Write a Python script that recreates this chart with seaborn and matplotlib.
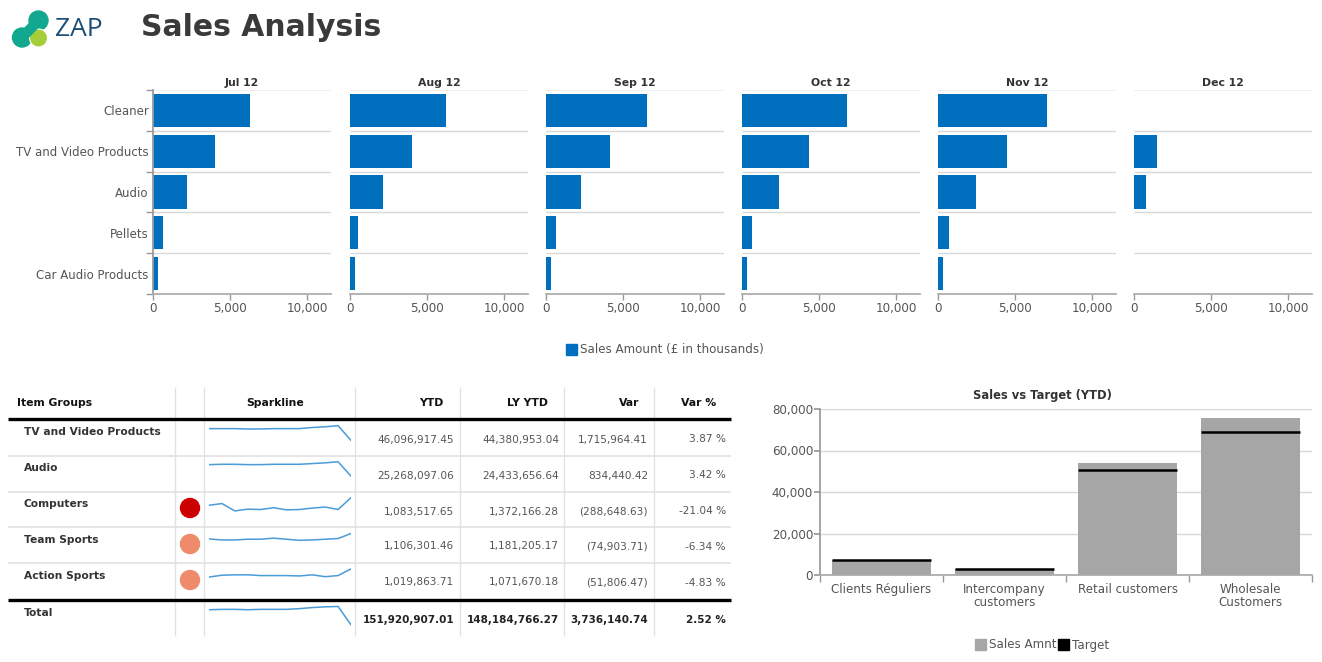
#!/usr/bin/env python3
"""Sales analysis dashboard: monthly bars, item group table, sales vs target."""

import matplotlib

matplotlib.use("Agg")

import matplotlib.pyplot as plt
import pandas as pd
import seaborn as sns
from matplotlib.patches import Circle, Patch
from matplotlib.ticker import FuncFormatter

WIDTH, HEIGHT = 1322, 662

BLUE = "#006FBE"
GREY_BAR = "#A6A6A6"
TEXT = "#555555"
GRID = "#D8D8D8"

MONTHS = ["Jul 12", "Aug 12", "Sep 12", "Oct 12", "Nov 12", "Dec 12"]
CATEGORIES = ["Cleaner", "TV and Video Products", "Audio", "Pellets", "Car Audio Products"]
NAN = float("nan")
JUL = [6280, 4000, 2200, 650, 350]
AUG = [6250, 4000, 2150, 520, 300]
SEP = [6550, 4150, 2270, 620, 320]
OCT = [6800, 4350, 2400, 620, 320]
NOV = [7050, 4480, 2460, 700, 330]
DEC = [NAN, 1520, 800, NAN, NAN]
MONTH_VALUES = [JUL, AUG, SEP, OCT, NOV, DEC]
MONTH_TICKS = [0, 5000, 10000]

TABLE_HEADERS = ["YTD", "LY YTD", "Var", "Var %"]
ITEM_GROUPS = ["TV and Video Products", "Audio", "Computers", "Team Sports", "Action Sports"]
YTD = ["46,096,917.45", "25,268,097.06", "1,083,517.65", "1,106,301.46", "1,019,863.71"]
LY_YTD = ["44,380,953.04", "24,433,656.64", "1,372,166.28", "1,181,205.17", "1,071,670.18"]
VAR = ["1,715,964.41", "834,440.42", "(288,648.63)", "(74,903.71)", "(51,806.47)"]
VAR_PCT = ["3.87 %", "3.42 %", "-21.04 %", "-6.34 %", "-4.83 %"]
TOTALS = ["151,920,907.01", "148,184,766.27", "3,736,140.74", "2.52 %"]
STATUS = [None, None, "#CC0000", "#EF8A6B", "#EF8A6B"]

# sparkline heights as percent of the row
SPARK_TV = [74, 74, 74, 73, 73, 74, 74, 74, 77, 79, 82, 42]
SPARK_AUDIO = [76, 77, 77, 76, 76, 77, 77, 77, 79, 81, 84, 44]
SPARK_COMPUTERS = [62, 67, 46, 51, 50, 55, 49, 50, 54, 57, 50, 84]
SPARK_TEAM = [67, 64, 64, 66, 66, 69, 66, 63, 64, 66, 68, 82]
SPARK_ACTION = [62, 67, 68, 68, 66, 66, 66, 65, 68, 63, 66, 84]
SPARK_TOTAL = [73, 74, 74, 73, 74, 74, 74, 76, 79, 81, 82, 31]
SPARKS = [SPARK_TV, SPARK_AUDIO, SPARK_COMPUTERS, SPARK_TEAM, SPARK_ACTION, SPARK_TOTAL]

CUSTOMERS = ["Clients Réguliers", "Intercompany\ncustomers", "Retail customers", "Wholesale\nCustomers"]
SALES_AMNT = [7400, 3000, 54000, 75800]
TARGET = [7100, 2900, 50500, 69100]
SALES_TICKS = [0, 20000, 40000, 60000, 80000]

thousands = FuncFormatter(lambda v, _: f"{v:,.0f}")


def px_axes(fig, x0, y0, x1, y1, **kwargs):
	return fig.add_axes([x0 / WIDTH, 1 - y1 / HEIGHT, (x1 - x0) / WIDTH, (y1 - y0) / HEIGHT], **kwargs)


def draw_header(overlay):
	# logo
	overlay.plot([38.5, 22], [20.5, 37.5], color="#12A88F", lw=7.5, solid_capstyle="round")
	overlay.add_patch(Circle((38.5, 20.5), 9.5, color="#12A88F"))
	overlay.add_patch(Circle((22, 37.5), 9.5, color="#12A88F"))
	overlay.add_patch(Circle((38.5, 38), 9, facecolor="#A6CE39", edgecolor="white", lw=0.8))
	overlay.text(55, 30, "ZAP", fontsize=19, color="#1D4F76", family="Open Sans", va="center")
	overlay.text(141, 27, "Sales Analysis", fontsize=21.5, fontweight="bold", color="#3A3A3A", va="center")


def draw_months(fig):
	frame = pd.DataFrame(
		{
			"month": [m for m in MONTHS for _ in CATEGORIES],
			"category": CATEGORIES * len(MONTHS),
			"sales": [v for values in MONTH_VALUES for v in values],
		}
	)
	lefts = [153, 350, 546, 742, 938, 1134]
	for idx, (month, left) in enumerate(zip(MONTHS, lefts)):
		ax = px_axes(fig, left, 90, left + 178, 294)
		sns.barplot(
			data=frame[frame["month"] == month],
			y="category",
			x="sales",
			order=CATEGORIES,
			orient="h",
			color=BLUE,
			saturation=1,
			width=0.81,
			linewidth=0,
			ax=ax,
		)
		ax.set_xlim(0, 11550)
		ax.set_ylim(4.5, -0.5)
		ax.set_xlabel("")
		ax.set_ylabel("")
		ax.set_title(month, fontsize=7.8, fontweight="bold", color="#333333", pad=3)
		ax.hlines([0.5, 1.5, 2.5, 3.5], 0, 1, transform=ax.get_yaxis_transform(), color=GRID, lw=1, zorder=0)
		ax.hlines([-0.5], 0, 1, transform=ax.get_yaxis_transform(), color="#F0F0F0", lw=1.5, zorder=0)
		ax.set_xticks(MONTH_TICKS)
		ax.xaxis.set_major_formatter(thousands)
		ax.tick_params(axis="x", bottom=True, labelsize=8.6, labelcolor=TEXT, color="#999999", length=4, width=1, pad=2)
		for name in ["top", "right"]:
			ax.spines[name].set_visible(False)
		ax.spines["bottom"].set_color("#AAAAAA")
		if idx == 0:
			ax.spines["left"].set_color("#999999")
			ax.tick_params(axis="y", labelsize=8.5, labelcolor=TEXT, length=0, pad=3)
			ax.set_yticks([-0.5, 0.5, 1.5, 2.5, 3.5, 4.5], minor=True)
			ax.tick_params(axis="y", which="minor", left=True, color="#999999", length=5, width=1)
		else:
			ax.spines["left"].set_visible(False)
			ax.tick_params(axis="y", left=False, labelleft=False)
	fig.legend(
		handles=[Patch(color=BLUE, label="Sales Amount (£ in thousands)")],
		loc="center",
		bbox_to_anchor=(665 / WIDTH, 1 - 350 / HEIGHT),
		frameon=False,
		fontsize=8.6,
		labelcolor=TEXT,
		handlelength=0.95,
		handleheight=0.95,
		handletextpad=0.25,
		borderpad=0,
	)


def draw_table(fig, overlay):
	columns = [175, 204, 355, 460, 564, 654]
	rows = [456, 492, 527, 563]
	text_y = [439.5, 475.5, 511.5, 546.5, 582.5]
	label_y = [432, 468, 504, 540, 576]
	dot_y = [None, None, 508, 544, 580]
	row_edges = [419, 456, 492, 527, 563, 600, 636]
	num_right = [454, 559, 648, 726]
	head_right = [444, 548, 639, 716]

	overlay.vlines(columns, 387, 636, color="#E2E2E2", lw=1)
	overlay.hlines(rows, 8, 731, color="#E2E2E2", lw=1.2)
	overlay.hlines([419, 600], 8, 731, color="black", lw=2.4)

	head_style = dict(fontsize=7.8, fontweight="bold", color="#111111", va="center")
	overlay.text(17, 403, "Item Groups", ha="left", **head_style)
	overlay.text(275, 403, "Sparkline", ha="center", **head_style)
	for header, right in zip(TABLE_HEADERS, head_right):
		overlay.text(right, 403, header, ha="right", **head_style)

	group_style = dict(fontsize=7.7, fontweight="bold", color="#333333", va="center", ha="left")
	for i, group in enumerate(ITEM_GROUPS):
		overlay.text(24, label_y[i], group, **group_style)
		cells = [YTD[i], LY_YTD[i], VAR[i], VAR_PCT[i]]
		for cell, right in zip(cells, num_right):
			overlay.text(right, text_y[i], cell, fontsize=7.6, color=TEXT, ha="right", va="center")
		if STATUS[i] is not None:
			overlay.add_patch(Circle((190, dot_y[i]), 9.5, color=STATUS[i], zorder=3))

	overlay.text(24, 613, "Total", **group_style)
	for cell, right in zip(TOTALS, num_right):
		overlay.text(right, 620, cell, fontsize=7.5, fontweight="bold", color="#222222", ha="right", va="center")

	for i, spark in enumerate(SPARKS):
		ax = px_axes(fig, 209, row_edges[i], 351, row_edges[i + 1])
		ax.patch.set_alpha(0)
		sns.lineplot(x=range(len(spark)), y=spark, color="#4A9BD8", lw=1.1, ax=ax)
		ax.set_xlim(0, len(spark) - 1)
		ax.set_ylim(0, 100)
		ax.axis("off")


def draw_sales_target(fig):
	ax = px_axes(fig, 820, 409, 1312, 575)
	frame = pd.DataFrame({"customer": CUSTOMERS, "sales": SALES_AMNT})
	sns.barplot(
		data=frame,
		x="customer",
		y="sales",
		color=GREY_BAR,
		saturation=1,
		width=0.805,
		linewidth=0,
		ax=ax,
		zorder=2,
	)
	ax.hlines(TARGET, [i - 0.4025 for i in range(4)], [i + 0.4025 for i in range(4)], color="black", lw=1.8, zorder=3)
	ax.set_xlim(-0.5, 3.5)
	ax.set_ylim(0, 80000)
	ax.set_xlabel("")
	ax.set_ylabel("")
	ax.set_yticks(SALES_TICKS)
	ax.yaxis.set_major_formatter(thousands)
	ax.grid(axis="y", color=GRID, lw=1, zorder=0)
	ax.set_axisbelow(True)
	ax.tick_params(axis="y", left=True, labelsize=8.6, labelcolor=TEXT, color="#999999", length=4, pad=1)
	ax.tick_params(axis="x", labelsize=8.6, labelcolor=TEXT, length=0, pad=6)
	plt.setp(ax.get_xticklabels(), linespacing=0.95)
	ax.set_xticks([-0.5, 0.5, 1.5, 2.5, 3.5], minor=True)
	ax.tick_params(axis="x", which="minor", bottom=True, color="#999999", length=5, width=1)
	ax.set_title("Sales vs Target (YTD)", x=0.453, fontsize=8.3, fontweight="bold", color="#333333", pad=7)
	for name in ["top", "right"]:
		ax.spines[name].set_visible(False)
	ax.spines["left"].set_color("#999999")
	ax.spines["bottom"].set_color("#AAAAAA")
	fig.legend(
		handles=[
			Patch(color=GREY_BAR, label="Sales Amnt"),
			Patch(color="black", label="Target"),
		],
		loc="center",
		ncol=2,
		bbox_to_anchor=(1042 / WIDTH, 1 - 645 / HEIGHT),
		frameon=False,
		fontsize=8.6,
		labelcolor=TEXT,
		handlelength=0.95,
		handleheight=0.95,
		handletextpad=0.25,
		columnspacing=0.1,
		borderpad=0,
	)


def main():
	sns.set_theme(style="white")
	plt.rcParams["font.family"] = ["DejaVu Sans"]

	fig = plt.figure(figsize=(WIDTH / 100, HEIGHT / 100), dpi=100, facecolor="white")
	overlay = fig.add_axes([0, 0, 1, 1])
	overlay.set_xlim(0, WIDTH)
	overlay.set_ylim(HEIGHT, 0)
	overlay.axis("off")

	draw_header(overlay)
	draw_months(fig)
	draw_table(fig, overlay)
	draw_sales_target(fig)
	fig.savefig("out.png", dpi=100)


if __name__ == "__main__":
	main()
